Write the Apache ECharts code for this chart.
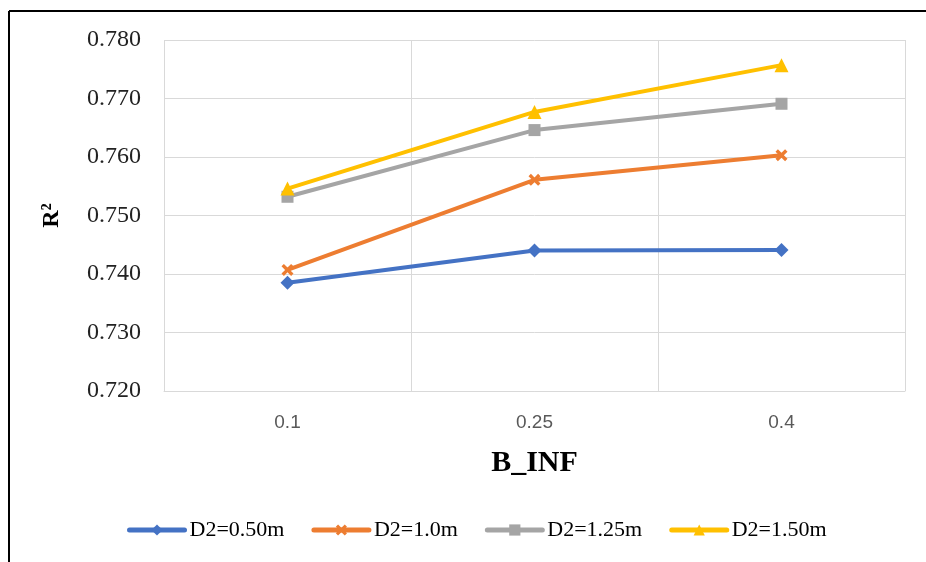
<!DOCTYPE html>
<html>
<head>
<meta charset="utf-8">
<script src="https://cdn.jsdelivr.net/npm/echarts@6/dist/echarts.min.js"></script>
<style>html,body{margin:0;padding:0;background:#fff;}#c{width:926px;height:562px;}</style>
</head>
<body>
<div id="c"></div>
<script>
const categories = ['0.1', '0.25', '0.4'];
const seriesNames = ['D2=0.50m', 'D2=1.0m', 'D2=1.25m', 'D2=1.50m'];
const d050 = [0.7385, 0.7440, 0.7441];
const d100 = [0.7407, 0.7561, 0.7603];
const d125 = [0.7532, 0.7646, 0.7691];
const d150 = [0.7546, 0.7677, 0.7757];
const colors = ['#4472C4', '#ED7D31', '#A5A5A5', '#FFC000'];
const xPath = 'path://M2,0 L5,3 L8,0 L10,2 L7,5 L10,8 L8,10 L5,7 L2,10 L0,8 L3,5 L0,2 Z';
const symbols = ['diamond', xPath, 'rect', 'triangle'];
const sizes = [14, 12, 12, 14];
const allData = [d050, d100, d125, d150];

const chart = echarts.init(document.getElementById('c'));
chart.setOption({
  animation: false,
  backgroundColor: '#fff',
  grid: { left: 164, right: 21, top: 40, bottom: 171, containLabel: false },
  graphic: [
    { type: 'line', shape: { x1: 9, y1: 11, x2: 926, y2: 11 }, style: { stroke: '#000', lineWidth: 2 } },
    { type: 'line', shape: { x1: 9, y1: 11, x2: 9, y2: 562 }, style: { stroke: '#000', lineWidth: 2 } }
  ],
  legend: {
    top: 514,
    left: 122,
    itemWidth: 55,
    itemHeight: 14,
    itemGap: 27,
    data: seriesNames,
    lineStyle: { width: 5 },
    textStyle: { fontFamily: 'Liberation Serif', fontSize: 22, color: '#000' }
  },
  xAxis: {
    type: 'category',
    data: categories,
    boundaryGap: true,
    name: 'B_INF',
    nameLocation: 'middle',
    nameGap: 57,
    nameTextStyle: { fontFamily: 'Liberation Serif', fontWeight: 'bold', fontSize: 30, color: '#000' },
    axisLine: { show: true, lineStyle: { color: '#d9d9d9', width: 1 } },
    axisTick: { show: false },
    axisLabel: { margin: 22, fontFamily: 'Liberation Sans, sans-serif', fontSize: 19, color: '#595959' },
    splitLine: { show: true, lineStyle: { color: '#d9d9d9', width: 1 } }
  },
  yAxis: {
    type: 'value',
    min: 0.72,
    max: 0.78,
    interval: 0.01,
    name: 'R²',
    nameLocation: 'middle',
    nameRotate: 90,
    nameGap: 100,
    nameTextStyle: { fontFamily: 'Liberation Serif', fontWeight: 'bold', fontSize: 24, color: '#000' },
    axisLine: { show: false },
    axisTick: { show: false },
    axisLabel: { margin: 23, fontFamily: 'Liberation Serif', fontSize: 24, color: '#222', formatter: v => v.toFixed(3) },
    splitLine: { show: true, lineStyle: { color: '#d9d9d9', width: 1 } }
  },
  series: allData.map((d, i) => ({
    name: seriesNames[i],
    type: 'line',
    data: d,
    symbol: symbols[i],
    symbolSize: sizes[i],
    showSymbol: true,
    itemStyle: { color: colors[i] },
    lineStyle: { color: colors[i], width: 4, cap: 'round' },
    z: 2 + i
  }))
});
</script>
</body>
</html>
